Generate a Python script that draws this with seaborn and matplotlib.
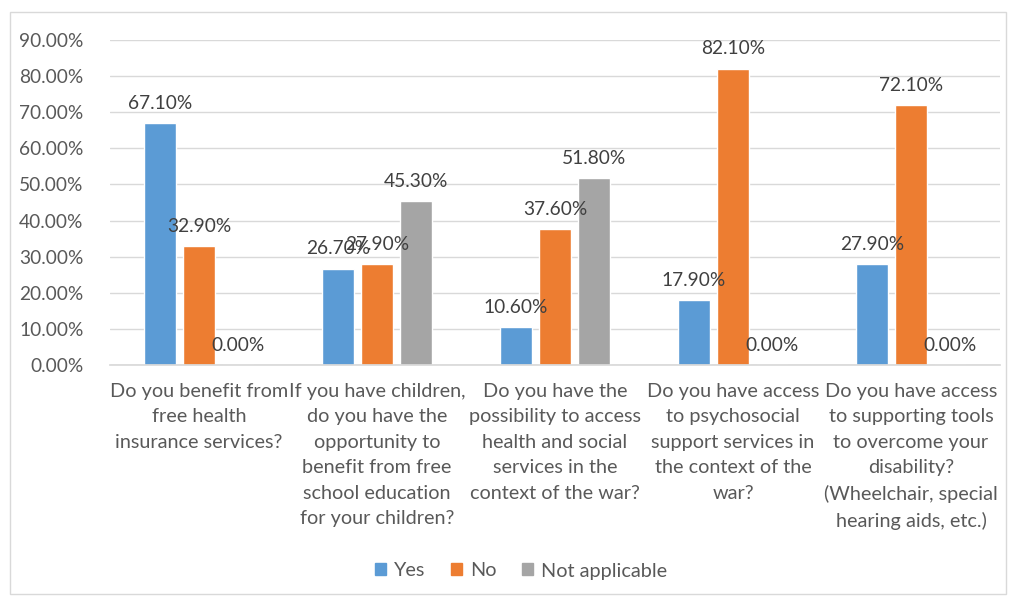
import matplotlib
matplotlib.use("Agg")
import matplotlib.pyplot as plt
import seaborn as sns
import pandas as pd
from matplotlib.ticker import FuncFormatter, MultipleLocator
from matplotlib.patches import Rectangle

categories = [
    "Do you benefit from\nfree health\ninsurance services?",
    "If you have children,\ndo you have the\nopportunity to\nbenefit from free\nschool education\nfor your children?",
    "Do you have the\npossibility to access\nhealth and social\nservices in the\ncontext of the war?",
    "Do you have access\nto psychosocial\nsupport services in\nthe context of the\nwar?",
    "Do you have access\nto supporting tools\nto overcome your\ndisability?\n(Wheelchair, special\nhearing aids, etc.)",
]
series = ["Yes", "No", "Not applicable"]
yes_vals = [67.1, 26.7, 10.6, 17.9, 27.9]
no_vals = [32.9, 27.9, 37.6, 82.1, 72.1]
na_vals = [0.0, 45.3, 51.8, 0.0, 0.0]
colors = ["#5B9BD5", "#ED7D31", "#A5A5A5"]

rows = []
for s, vals in zip(series, [yes_vals, no_vals, na_vals]):
    for c, v in zip(categories, vals):
        rows.append({"Question": c, "Response": s, "Value": v})
df = pd.DataFrame(rows)

sns.set_theme(style="white")
plt.rcParams["font.family"] = ["Lato", "DejaVu Sans"]
text_color = "#404040"

fig = plt.figure(figsize=(10.09, 5.96), dpi=100)
ax = fig.add_axes([110/1009, 1 - 365/596, 890/1009, 325/596])

sns.barplot(data=df, x="Question", y="Value", hue="Response", order=categories,
            hue_order=series, palette=colors, width=0.66, gap=0.2,
            saturation=1, ax=ax, legend=True)

ax.set_ylim(0, 90)
ax.yaxis.set_major_locator(MultipleLocator(10))
ax.yaxis.set_major_formatter(FuncFormatter(lambda v, p: f"{v:.2f}%"))
ax.grid(axis="y", color="#D9D9D9", linewidth=1)
ax.set_axisbelow(True)
for s in ["top", "right", "left"]:
    ax.spines[s].set_visible(False)
ax.spines["bottom"].set_color("#D9D9D9")
ax.set_xlabel("")
ax.set_ylabel("")
ax.tick_params(axis="y", labelsize=13.8, colors="#595959", length=0, pad=19)
ax.tick_params(axis="x", labelsize=14.3, colors="#595959", length=0, pad=13)
for lbl in ax.get_xticklabels():
    lbl.set_linespacing(1.6)
ax.set_xlim(-0.5, 4.5)

for cont in ax.containers:
    ax.bar_label(cont, labels=[f"{b.get_height():.2f}%" for b in cont],
                 padding=8, fontsize=13.8, color=text_color)

leg = ax.get_legend()
leg.remove()
handles = [Rectangle((0, 0), 1, 1, color=c) for c in colors]
fig.legend(handles, series, loc="center", bbox_to_anchor=(521/1009, 1 - 571/596),
           ncol=3, frameon=False, fontsize=14.3, handlelength=0.55, handleheight=0.55,
           columnspacing=1.3, handletextpad=0.4, labelcolor="#595959")

fig.patches.append(Rectangle((10/1009, 2/596), 996/1009, 582/596, transform=fig.transFigure,
                             fill=False, edgecolor="#D9D9D9", linewidth=1))

fig.savefig("out.png", dpi=100)
